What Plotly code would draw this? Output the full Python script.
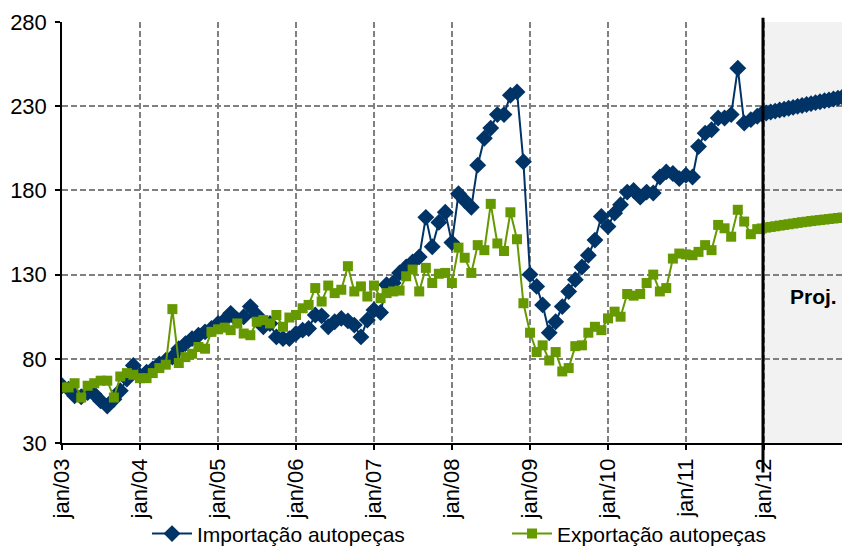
import pandas as pd
import plotly.graph_objects as go

# ---------------- data ----------------
imp_values = [
    # 2003
    64, 62, 58, 57.5, 60, 59, 55, 52, 56, 61, 68, 76,
    # 2004
    70, 72, 74, 77, 79, 81, 86, 89, 92, 94, 96, 98,
    # 2005
    101, 103, 107, 103, 105, 111, 106, 99, 101, 93, 92, 92,
    # 2006
    95, 97, 98, 106, 105.5, 99, 102, 104, 102.5, 100, 93, 103,
    # 2007
    109, 107.5, 124, 125, 131, 134.5, 137.5, 140.5, 164, 146.5, 161, 167,
    # 2008
    149, 178, 174, 170, 195, 211, 217, 225, 225, 236.5, 238.5, 197,
    # 2009
    130, 123, 112, 95.5, 102, 111, 120, 127, 134.5, 141.5, 150.5, 164.5,
    # 2010
    158.5, 166.5, 171.5, 179, 180, 176, 179, 178.5, 188, 191, 190, 187,
    # 2011
    189, 188, 206, 214, 216, 223, 223, 225, 252.5, 220, 222, 224,
]
exp_values = [
    # 2003
    63, 63, 65.5, 57, 64, 65.5, 67, 67, 57, 69.5, 71.5, 70.5,
    # 2004
    68.5, 68.5, 71.5, 74.5, 76.5, 109.5, 77.5, 81, 83, 87, 86, 96,
    # 2005
    97.5, 98.5, 97, 101, 95, 94, 102, 103, 101, 106, 99, 104.5,
    # 2006
    106, 110, 112, 122, 114, 123.5, 119, 121, 135, 120, 123, 117,
    # 2007
    123.5, 116, 119, 120, 120.5, 129, 133, 120, 134, 125, 130.5, 131,
    # 2008
    125, 146, 140, 131, 147.5, 144.5, 172, 148.5, 144, 167, 151, 113,
    # 2009
    95.5, 84, 88, 79, 84, 72.5, 74.5, 87.5, 88, 95.5, 99, 97,
    # 2010
    104, 108, 105, 118.5, 117.5, 118.5, 125, 130, 120, 122, 139.5, 142.5,
    # 2011
    142, 141.5, 143.5, 147.5, 144.5, 159.5, 157.5, 152.5, 168.5, 161.5, 154, 157,
]
# projection (dense points, Dec/2011 - Dec/2012)
imp_proj = [225.5, 226, 226.6, 227.1, 227.7, 228.2, 228.8, 229.3, 229.9,
            230.4, 231, 231.5, 232.1, 232.6, 233.2, 233.7, 234.3, 234.8, 235.4]
exp_proj = [157.4, 157.9, 158.3, 158.7, 159.1, 159.5, 159.9, 160.3, 160.7,
            161.1, 161.4, 161.8, 162.1, 162.4, 162.7, 163.0, 163.3, 163.6, 163.9]

tick_labels = ["jan/03", "jan/04", "jan/05", "jan/06", "jan/07",
               "jan/08", "jan/09", "jan/10", "jan/11", "jan/12"]
name_imp = "Importação autopeças"
name_exp = "Exportação autopeças"
proj_label = "Proj."

# ---------------- build ----------------
months = list(pd.date_range("2003-01-01", periods=len(imp_values), freq="MS"))
proj_dates = list(pd.date_range("2011-12-22", periods=len(imp_proj), freq="21D"))
x_all = months + proj_dates
tick_vals = list(pd.date_range("2003-01-01", periods=len(tick_labels), freq="YS"))

BLUE = "#003366"
GREEN = "#669900"
FONT = "Liberation Sans"

fig = go.Figure()
fig.add_trace(go.Scatter(
    x=x_all, y=imp_values + imp_proj, name=name_imp, mode="lines+markers",
    line=dict(color=BLUE, width=2),
    marker=dict(symbol="diamond", size=13, color=BLUE),
))
fig.add_trace(go.Scatter(
    x=x_all, y=exp_values + exp_proj, name=name_exp, mode="lines+markers",
    line=dict(color=GREEN, width=2),
    marker=dict(symbol="square", size=10, color=GREEN),
))

split = "2011-12-28"
fig.add_shape(type="rect", xref="x", yref="y", x0=split, x1="2013-01-01",
              y0=30, y1=280, fillcolor="#f2f2f2", line=dict(width=0), layer="below")
fig.add_shape(type="line", xref="x", yref="paper", x0=split, x1=split,
              y0=-0.07, y1=1.01, line=dict(color="black", width=3), layer="above")
fig.add_annotation(x="2012-08-20", y=117, xref="x", yref="y", text="<b>%s</b>" % proj_label,
                   showarrow=False, font=dict(family=FONT, size=21, color="black"))

fig.update_layout(
    width=842, height=550,
    margin=dict(l=62, r=0, t=22, b=107, autoexpand=False),
    paper_bgcolor="white", plot_bgcolor="white",
    font=dict(family=FONT, size=21, color="black"),
    showlegend=True,
    legend=dict(orientation="h", x=0.109, y=-0.216, xanchor="left", yanchor="middle",
                font=dict(family=FONT, size=21, color="black"),
                entrywidth=305, entrywidthmode="pixels", itemwidth=40,
                bgcolor="rgba(0,0,0,0)"),
)
fig.update_xaxes(
    range=["2003-01-01", "2013-01-01"], automargin=False,
    tickvals=tick_vals, ticktext=tick_labels, tickangle=-90,
    showline=True, linecolor="black", linewidth=1.5,
    ticks="outside", ticklen=5, tickcolor="black", tickwidth=1.5,
    showgrid=True, gridcolor="#808080", gridwidth=1.5, griddash="6px,3px",
    zeroline=False, tickfont=dict(family=FONT, size=22),
)
fig.update_yaxes(
    range=[30, 280], tickvals=[30, 80, 130, 180, 230, 280], automargin=False,
    showline=True, linecolor="black", linewidth=1.5,
    ticks="outside", ticklen=5, tickcolor="black", tickwidth=1.5,
    ticklabelstandoff=4,
    showgrid=True, gridcolor="#808080", gridwidth=1.5, griddash="6px,3px",
    zeroline=False, tickfont=dict(family=FONT, size=22),
)

fig.write_html("out.html", config={"displayModeBar": False},
               post_script="document.body.style.margin='0';")
